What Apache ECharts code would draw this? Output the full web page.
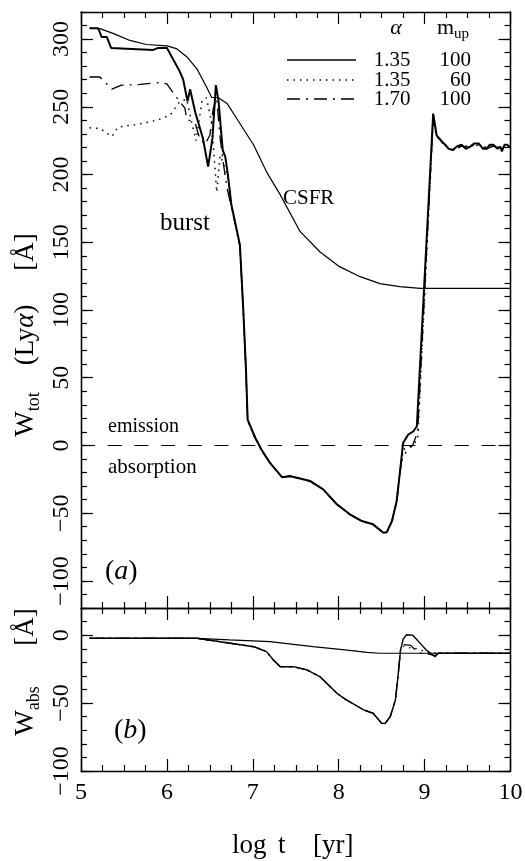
<!DOCTYPE html>
<html><head><meta charset="utf-8">
<script src="https://cdn.jsdelivr.net/npm/echarts@6/dist/echarts.min.js"></script>
<style>html,body{margin:0;padding:0;background:#fff}#c{width:525px;height:861px}</style>
</head><body><div id="c"></div><script>
const FONT = 'Liberation Serif';

// ---------- panel (a): W_tot(Lyα) ----------
const tTopBurst = [5.10,5.20,5.24,5.30,5.35,5.84,5.90,6.00,6.15,6.19,6.24,6.27,6.33,6.42,6.48,6.53,6.57,6.60,6.65,6.68,6.71,6.75,6.80,6.85,6.89,6.92,6.94,7.03,7.10,7.20,7.34,7.43,7.67,7.82,7.98,8.13,8.27,8.40,8.52,8.56,8.62,8.675,8.71,8.75,8.81,8.87,8.91,9.10,9.14,9.19,9.24,9.28,9.33,9.38,9.43,9.48,9.53,9.58,9.63,9.68,9.72,9.76,9.80,9.85,9.88,9.90,9.93,9.96,10.0];
const wTopBurst = [308,308,301.6,301.6,293.5,292,293.5,293.5,276,270,254,263,246,226.6,205.8,226.7,266,255,218,213,199.7,178,163,148,99,57,19,5.6,-3,-12.8,-23.4,-22.6,-26.3,-32.4,-43.5,-50.8,-55.8,-58.2,-64.4,-64,-55.8,-41,-21.4,1.9,8.1,10.5,14.2,245,229,225,222,219,218,221,222,219,220.6,223,223,219,219,222,222,219,220.6,217,222,222,220];

const tTopDot = [5.10,5.22,5.36,5.43,5.65,5.88,6.04,6.15,6.23,6.29,6.34,6.41,6.46,6.52,6.54,6.56,6.58,6.62,6.66,6.71,6.75,6.80,6.85,6.89,6.92,6.94,7.03,7.10,7.20,7.34,7.43,7.67,7.82,7.98,8.13,8.27,8.40,8.52,8.56,8.62,8.675,8.71,8.75,8.82,8.87,8.92,9.10,9.14,9.24,9.33,9.43,9.53,9.63,9.72,9.80,9.88,9.96,10.0];
const wTopDot = [234.5,234,228,235,237,240,244,254,255.7,238,225,255,256.6,239,222,204.6,187,214,208,198,177,162,147,98,56,18,5,-3.5,-13,-23.6,-22.8,-26.5,-32.6,-43.7,-51,-56,-58.4,-64.6,-64.2,-56,-41.2,-21.6,-3,-1,0.8,5,241,228,221,219,221,221,222,220,221,220,221,220];

const tTopDash = [5.10,5.22,5.36,5.47,5.69,5.92,6.00,6.09,6.21,6.23,6.33,6.37,6.44,6.50,6.54,6.58,6.62,6.66,6.70,6.75,6.80,6.85,6.89,6.92,6.94,7.03,7.10,7.20,7.34,7.43,7.67,7.82,7.98,8.13,8.27,8.40,8.52,8.56,8.62,8.675,8.71,8.73,8.79,8.86,8.92,9.10,9.14,9.24,9.33,9.43,9.53,9.63,9.72,9.80,9.88,9.96,10.0];
const wTopDash = [272,272,263,266,266.5,268,267,258.7,249,241,237.7,229,222,229,249,256,226.7,207,190,176,162,147,98,56,18,5,-3.5,-13,-23.6,-22.8,-26.5,-32.6,-43.7,-51,-56,-58.4,-64.6,-64.2,-56,-41.2,-22,-11.5,-4,0,10,242,229,222,218,221,220,222,219,221,219,221,220];

const tTopCSFR = [5.10,5.22,5.38,5.57,5.76,6.00,6.11,6.23,6.35,6.46,6.52,6.60,6.70,6.85,7.01,7.16,7.32,7.55,7.78,8.01,8.25,8.48,8.71,8.95,9.5,10.0];
const wTopCSFR = [308,307.7,304,299,296,295,293,287,278,264.8,257,256.7,252.5,237.7,221.8,202,185,158,143,132,124.6,119.5,117.3,116,116,116];

// ---------- panel (b): W_abs ----------
const tBotBurst = [5.10,6.35,6.62,7.01,7.16,7.24,7.32,7.47,7.63,7.78,7.98,8.09,8.29,8.40,8.50,8.54,8.60,8.66,8.69,8.72,8.75,8.79,8.86,8.92,9.02,9.12,9.16,10.0];
const wBotBurst = [-2.3,-2.3,-4.8,-8.5,-12.1,-18.3,-23.2,-23.2,-25.6,-30.5,-42.8,-47.7,-55,-57.5,-64.9,-65,-60,-47.7,-30.5,-10.9,-3,0.3,0,-4,-10.9,-15.8,-13.3,-13.3];

const tBotDot = [5.10,6.35,6.62,7.01,7.16,7.24,7.32,7.47,7.63,7.78,7.98,8.09,8.29,8.40,8.50,8.54,8.60,8.66,8.69,8.72,8.76,8.80,8.86,8.95,9.05,9.12,10.0];
const wBotDot = [-2.3,-2.3,-4.8,-8.5,-12.1,-18.3,-23.2,-23.2,-25.6,-30.5,-42.8,-47.7,-55,-57.5,-64.9,-65,-60,-47.7,-30.5,-10.9,-8,-9.5,-9,-11,-12.5,-13,-13.3];

const tBotDash = [5.10,6.35,6.62,7.01,7.16,7.24,7.32,7.47,7.63,7.78,7.98,8.09,8.29,8.40,8.50,8.54,8.60,8.66,8.69,8.72,8.76,8.84,8.89,8.94,9.05,9.12,9.16,10.0];
const wBotDash = [-2.3,-2.3,-4.8,-8.5,-12.1,-18.3,-23.2,-23.2,-25.6,-30.5,-42.8,-47.7,-55,-57.5,-64.9,-65,-60,-47.7,-30.5,-10.9,-7,-7.5,-10.9,-13.3,-14,-15,-13.3,-13.3];

const tBotCSFR = [5.10,6.35,6.73,7.20,7.70,8.10,8.33,8.48,9.0,9.5,10.0];
const wBotCSFR = [-2.3,-2.3,-3.5,-4.8,-8.5,-11,-12.6,-13.3,-13.3,-13.3,-13.3];

// ---------- tick labels ----------
const topYLabels = [-100,-50,0,50,100,150,200,250,300];
const botYLabels = [-100,-50,0];
const legendRows = [['1.35','100'],['1.35','60'],['1.70','100']];

const BLACK = '#000';
const DOT = [1.5,5];
const DASHDOT = [13,6,2,6];

function zip(a,b){return a.map((v,i)=>[v,b[i]]);}
function fmt(v){return v<0 ? '\u2212'+(-v) : String(v);}

const axLine = {color:BLACK,width:1.3};
function xAx(grid,pos,labels){
  return {type:'value',gridIndex:grid,position:pos,min:5,max:10,interval:1,
    axisLine:{show:true,onZero:false,lineStyle:axLine},
    axisTick:{show:true,inside:true,length:12,lineStyle:{color:BLACK,width:1.2}},
    minorTick:{show:true,splitNumber:4,length:6,lineStyle:{color:BLACK,width:1.2}},
    splitLine:{show:false},minorSplitLine:{show:false},
    axisLabel:labels?{show:true,fontFamily:FONT,fontSize:24,color:BLACK,margin:10,showMinLabel:true,showMaxLabel:true}:{show:false}};
}
function yAx(grid,pos,min,max,tickVals,len,labels){
  const tick={show:true,inside:true,length:len,lineStyle:{color:BLACK,width:1.2}};
  if(tickVals) tick.customValues=tickVals;
  return {type:'value',gridIndex:grid,position:pos,min:min,max:max,interval:10,
    axisLine:{show:true,onZero:false,lineStyle:axLine},
    axisTick:tick,
    splitLine:{show:false},
    axisLabel:labels?{show:true,customValues:labels,rotate:90,formatter:fmt,fontFamily:FONT,fontSize:24,color:BLACK,margin:7}:{show:false}};
}
function line(name,data,xi,yi,width,dash){
  return {name:name,type:'line',data:data,xAxisIndex:xi,yAxisIndex:yi,symbol:'none',showSymbol:false,
    clip:true,animation:false,silent:true,
    lineStyle:{color:BLACK,width:width,type:dash||'solid'}};
}

const majTop=[-100,-50,0,50,100,150,200,250,300];
const majBot=[-100,-50,0];

const txt=(t,x,y,size,extra)=>Object.assign({type:'text',x:x,y:y,silent:true,
  style:{text:t,fill:BLACK,font:size+'px "'+FONT+'"',align:'left',verticalAlign:'middle'}},extra||{});

const graphics=[];
// legend header
graphics.push({type:'text',x:396,y:28,silent:true,style:{text:'α',fill:BLACK,font:'italic 22px "'+FONT+'"',align:'center',verticalAlign:'middle'}});
graphics.push({type:'text',x:437,y:28,silent:true,style:{text:'{m|m}{s|up}',fill:BLACK,align:'left',verticalAlign:'middle',
  rich:{m:{fontFamily:FONT,fontSize:22,lineHeight:28,verticalAlign:'middle'},s:{fontFamily:FONT,fontSize:15,lineHeight:15,verticalAlign:'bottom'}}}});
const legY=[60,80,99];
const legDash=[null,DOT,DASHDOT];
legendRows.forEach((r,i)=>{
  graphics.push({type:'line',silent:true,shape:{x1:287,y1:legY[i],x2:356,y2:legY[i]},style:{stroke:BLACK,lineWidth:1.3,lineDash:legDash[i]}});
  graphics.push({type:'text',x:392,y:legY[i],silent:true,style:{text:r[0],fill:BLACK,font:'21px "'+FONT+'"',align:'center',verticalAlign:'middle'}});
  graphics.push({type:'text',x:471,y:legY[i],silent:true,style:{text:r[1],fill:BLACK,font:'21px "'+FONT+'"',align:'right',verticalAlign:'middle'}});
});
graphics.push(txt('CSFR',283,198,21));
graphics.push(txt('burst',160,223,25));
graphics.push(txt('emission',108,427,20));
graphics.push(txt('absorption',108,467,21));
graphics.push({type:'text',x:105,y:572,silent:true,style:{text:'({i|a})',fill:BLACK,font:'28px "'+FONT+'"',align:'left',verticalAlign:'middle',
  rich:{i:{fontFamily:FONT,fontSize:28,fontStyle:'italic'}}}});
graphics.push({type:'text',x:114,y:731,silent:true,style:{text:'({i|b})',fill:BLACK,font:'28px "'+FONT+'"',align:'left',verticalAlign:'middle',
  rich:{i:{fontFamily:FONT,fontSize:28,fontStyle:'italic'}}}});
// x title
graphics.push(txt('log',232,846,27));
graphics.push(txt('t',278,846,27));
graphics.push(txt('[yr]',313,846,27));
// y titles (rotated)
const richT={m:{fontFamily:FONT,fontSize:27,lineHeight:34,verticalAlign:'middle'},
             s:{fontFamily:FONT,fontSize:18,lineHeight:18,verticalAlign:'bottom'},
             i:{fontFamily:FONT,fontSize:27,fontStyle:'italic',lineHeight:34,verticalAlign:'middle'}};
graphics.push({type:'text',x:26,y:335,rotation:Math.PI/2,silent:true,style:{text:'{m|W}{s|tot}{m|    (Ly}{i|α}{m|)     [Å]}',fill:BLACK,align:'center',verticalAlign:'middle',rich:richT}});
graphics.push({type:'text',x:26,y:672,rotation:Math.PI/2,silent:true,style:{text:'{m|W}{s|abs}{m|      [Å]}',fill:BLACK,align:'center',verticalAlign:'middle',rich:richT}});

const option={
  backgroundColor:'#fff',
  animation:false,
  grid:[
    {left:81,top:12,width:429.5,height:596,outerBoundsMode:'none',containLabel:false},
    {left:81,top:608,width:429.5,height:163,outerBoundsMode:'none',containLabel:false}
  ],
  xAxis:[xAx(0,'bottom',false),xAx(0,'top',false),xAx(1,'bottom',true),xAx(1,'top',false)],
  yAxis:[
    yAx(0,'left',-120,320,null,6,topYLabels),
    yAx(0,'left',-120,320,majTop,12,null),
    yAx(0,'right',-120,320,null,6,null),
    yAx(0,'right',-120,320,majTop,12,null),
    yAx(1,'left',-100,20,null,6,botYLabels),
    yAx(1,'left',-100,20,majBot,12,null),
    yAx(1,'right',-100,20,null,6,null),
    yAx(1,'right',-100,20,majBot,12,null)
  ],
  series:[
    Object.assign(line('burst',zip(tTopBurst,wTopBurst),0,0,2),{
      markLine:{silent:true,symbol:'none',animation:false,label:{show:false},
        lineStyle:{color:BLACK,width:1.2,type:[14,12.7]},data:[{yAxis:0}]}}),
    line('dot',zip(tTopDot,wTopDot),0,0,1.5,DOT),
    line('dashdot',zip(tTopDash,wTopDash),0,0,1.3,DASHDOT),
    line('csfr',zip(tTopCSFR,wTopCSFR),0,0,1.2),
    line('burstB',zip(tBotBurst,wBotBurst),2,4,1.4),
    line('dotB',zip(tBotDot,wBotDot),2,4,1.4,DOT),
    line('dashB',zip(tBotDash,wBotDash),2,4,1.3,DASHDOT),
    line('csfrB',zip(tBotCSFR,wBotCSFR),2,4,1.2)
  ],
  graphic:graphics
};
const chart=echarts.init(document.getElementById('c'),null,{renderer:'canvas'});
chart.setOption(option);
</script></body></html>
